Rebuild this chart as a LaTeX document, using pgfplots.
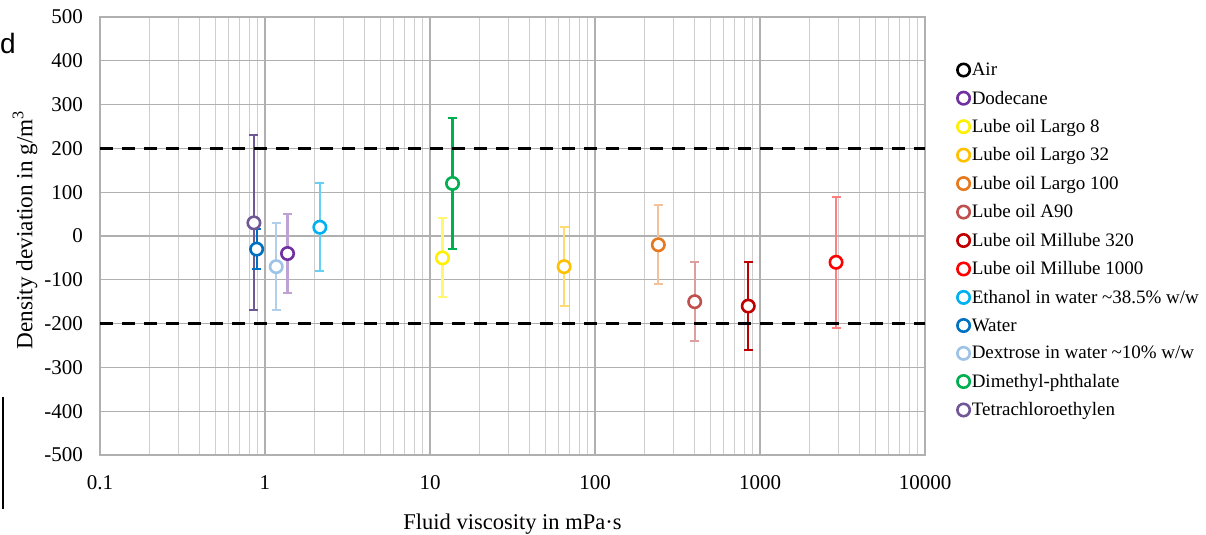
\documentclass[border=0pt]{standalone}
\usepackage{fontspec}
\setmainfont{Liberation Serif}
\newfontfamily\sansf{Liberation Sans}
\usepackage{pgfplots}
\pgfplotsset{compat=1.18}

\definecolor{cAir}{RGB}{0,0,0}
\definecolor{cDod}{RGB}{112,48,160}
\definecolor{cL8}{RGB}{255,240,0}
\definecolor{cL32}{RGB}{255,192,0}
\definecolor{cL100}{RGB}{230,120,30}
\definecolor{cA90}{RGB}{192,80,77}
\definecolor{cM320}{RGB}{192,0,0}
\definecolor{cM1000}{RGB}{255,0,0}
\definecolor{cEth}{RGB}{0,176,240}
\definecolor{cWat}{RGB}{0,112,192}
\definecolor{cDex}{RGB}{157,195,230}
\definecolor{cDMP}{RGB}{0,176,80}
\definecolor{cTet}{RGB}{112,88,150}

\pgfplotsset{
  pt/.style={only marks, mark=*, mark size=6.2bp,
    mark options={draw=#1, fill=white, line width=2.6bp, solid}},
  eb/.style 2 args={error bars/.cd, y dir=both, y explicit,
    error bar style={line width=2.2bp, draw=#1!#2!white},
    error mark options={rotate=90, mark size=4.5bp, line width=2bp, draw=#1!#2!white},
    /pgfplots/.cd},
}

\begin{document}
\begin{tikzpicture}
\path[use as bounding box] (0,0) rectangle (1206bp,535bp);
% panel letter at the left edge
\node[anchor=base west, inner sep=0pt, font=\sansf\fontsize{28bp}{32bp}\selectfont] at (0bp,481bp) {d};
\draw[line width=2bp] (3bp,26bp) -- (3bp,138bp);

\begin{axis}[
    at={(100bp,80bp)}, anchor=south west,
    scale only axis, width=825bp, height=438bp,
    xmode=log,
    xmin=0.1, xmax=10000,
    ymin=-500, ymax=500,
    xtick={0.1,1,10,100,1000,10000},
    xticklabels={0.1,1,10,100,1000,10000},
    minor xtick={0.2,0.3,0.4,0.5,0.6,0.7,0.8,0.9,2,3,4,5,6,7,8,9,20,30,40,50,60,70,80,90,200,300,400,500,600,700,800,900,2000,3000,4000,5000,6000,7000,8000,9000},
    ytick={-500,-400,...,500},
    major tick length=0pt, minor tick length=0pt,
    xmajorgrids, xminorgrids, ymajorgrids,
    major grid style={gray!62, line width=1.1bp},
    minor grid style={gray!38, line width=1bp},
    axis line style={gray!62, line width=1.1bp},
    /pgf/number format/assume math mode=true,
    yticklabel style={font=\fontsize{21bp}{24bp}\selectfont, inner sep=0pt, xshift=-17bp},
    xticklabel style={font=\fontsize{21bp}{24bp}\selectfont, inner sep=0pt, yshift=-20bp},
    xlabel={Fluid viscosity in mPa·s},
    ylabel={Density deviation in g/m\textsuperscript{3}},
    label style={font=\fontsize{22.5bp}{26bp}\selectfont},
    xlabel style={at={(axis description cs:0.5,-0.171)}, anchor=base},
    ylabel style={at={(axis description cs:-0.082,0.514)}, anchor=base, font=\fontsize{23.2bp}{26bp}\selectfont},
    legend style={at={(1.039,0.9)}, anchor=north west, draw=none, fill=none,
      font=\fontsize{19bp}{21bp}\selectfont, row sep=9.8bp, inner sep=0pt,
      /tikz/every odd column/.append style={column sep=0pt}},
    legend cell align=left,
    legend image code/.code={\draw[#1] plot coordinates {(6bp,0bp)};},
]
% legend entries
\addlegendimage{pt=cAir}\addlegendentry{Air}
\addlegendimage{pt=cDod}\addlegendentry{Dodecane}
\addlegendimage{pt=cL8}\addlegendentry{Lube oil Largo 8}
\addlegendimage{pt=cL32}\addlegendentry{Lube oil Largo 32}
\addlegendimage{pt=cL100}\addlegendentry{Lube oil Largo 100}
\addlegendimage{pt=cA90}\addlegendentry{Lube oil A90}
\addlegendimage{pt=cM320}\addlegendentry{Lube oil Millube 320}
\addlegendimage{pt=cM1000}\addlegendentry{Lube oil Millube 1000}
\addlegendimage{pt=cEth}\addlegendentry{Ethanol in water \textasciitilde38.5\% w/w}
\addlegendimage{pt=cWat}\addlegendentry{Water}
\addlegendimage{pt=cDex}\addlegendentry{Dextrose in water \textasciitilde10\% w/w}
\addlegendimage{pt=cDMP}\addlegendentry{Dimethyl-phthalate}
\addlegendimage{pt=cTet}\addlegendentry{Tetrachloroethylen}

% data: viscosity, deviation +- uncertainty
\addplot[pt=cTet, eb={cTet}{100}, forget plot] coordinates {(0.857,30) +- (0,200)};
\addplot[pt=cWat, eb={cWat}{100}, forget plot] coordinates {(0.89,-30) +- (0,45)};
\addplot[pt=cDex, eb={cDex}{80}, forget plot] coordinates {(1.17,-70) +- (0,100)};
\addplot[pt=cDod, eb={cDod}{45}, forget plot] coordinates {(1.37,-40) +- (0,90)};
\addplot[pt=cEth, eb={cEth}{60}, forget plot] coordinates {(2.15,20) +- (0,100)};
\addplot[pt=cL8, eb={cL8}{55}, forget plot] coordinates {(11.9,-50) +- (0,90)};
\addplot[pt=cDMP, eb={cDMP}{100}, forget plot] coordinates {(13.7,120) +- (0,150)};
\addplot[pt=cL32, eb={cL32}{55}, forget plot] coordinates {(65,-70) +- (0,90)};
\addplot[pt=cL100, eb={cL100}{45}, forget plot] coordinates {(242,-20) +- (0,90)};
\addplot[pt=cA90, eb={cA90}{55}, forget plot] coordinates {(402,-150) +- (0,90)};
\addplot[pt=cM320, eb={cM320}{100}, forget plot] coordinates {(849,-160) +- (0,100)};
\addplot[pt=cM1000, eb={cM1000}{50}, forget plot] coordinates {(2890,-60) +- (0,150)};

% limits
\addplot[black, line width=3bp, dash pattern=on 13bp off 9bp, forget plot] coordinates {(0.1,200) (10000,200)};
\addplot[black, line width=3bp, dash pattern=on 13bp off 9bp, forget plot] coordinates {(0.1,-200) (10000,-200)};
\end{axis}
\end{tikzpicture}
\end{document}
